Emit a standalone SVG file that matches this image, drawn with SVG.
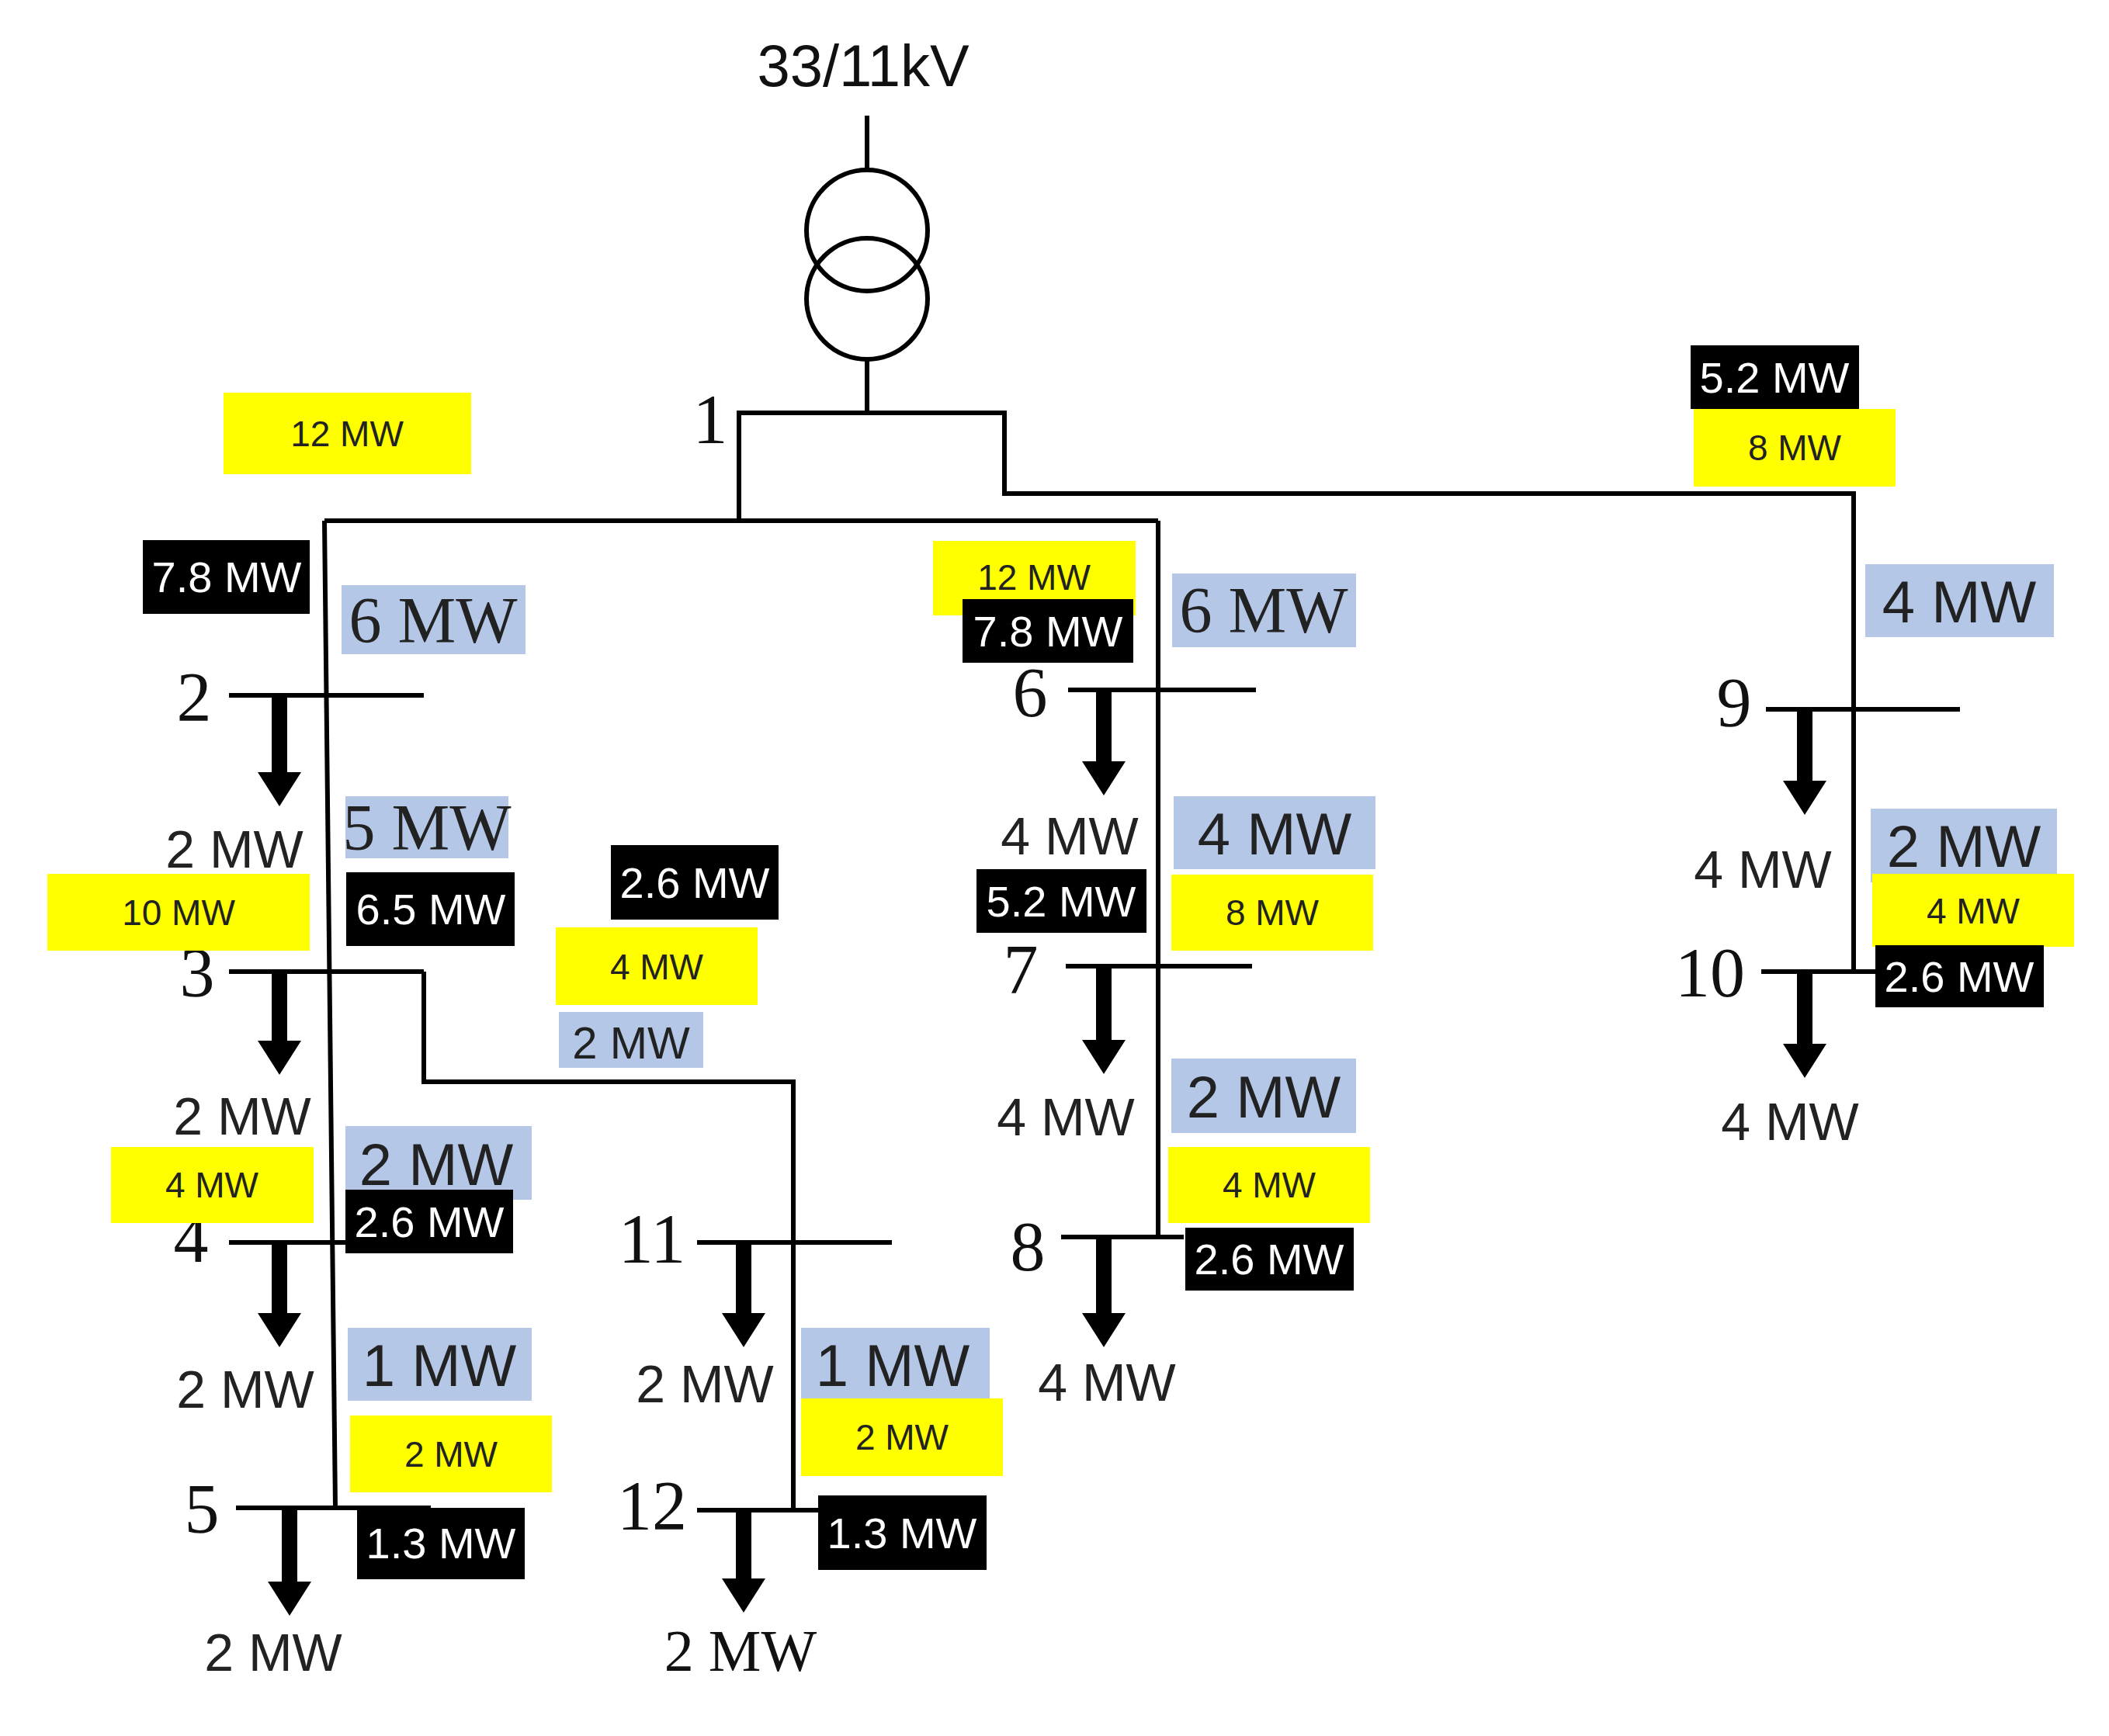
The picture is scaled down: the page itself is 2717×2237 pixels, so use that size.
<svg xmlns="http://www.w3.org/2000/svg" width="2717" height="2237" viewBox="0 0 2717 2237">
<style>
.ln{stroke:#000;stroke-width:6;fill:none}
.ar{fill:#000}
.yl{fill:#ffff00}
.bl{fill:#b4c7e7}
.bk{fill:#000}
.ty{font-family:"Liberation Sans",sans-serif;font-size:46px;fill:#222;text-anchor:middle}
.tw{font-family:"Liberation Sans",sans-serif;font-size:56px;fill:#fff;text-anchor:middle}
.tb{font-family:"Liberation Sans",sans-serif;font-size:76px;fill:#222;text-anchor:middle}
.tbs{font-family:"Liberation Serif",serif;font-size:84px;fill:#222;text-anchor:middle}
.tl{font-family:"Liberation Sans",sans-serif;font-size:68px;fill:#222;text-anchor:middle}
.tls{font-family:"Liberation Serif",serif;font-size:76px;fill:#111;text-anchor:middle}
.num{font-family:"Liberation Serif",serif;font-size:90px;fill:#111;text-anchor:middle}
.kv{font-family:"Liberation Sans",sans-serif;font-size:76px;fill:#111;text-anchor:middle}
</style>
<rect width="2717" height="2237" fill="#fff"/>
<g id="transformer">
<text class="kv" x="1112" y="111">33/11kV</text>
<line class="ln" x1="1117" y1="149" x2="1117" y2="220"/>
<circle class="ln" cx="1117" cy="297" r="78"/>
<circle class="ln" cx="1117" cy="385" r="78"/>
<line class="ln" x1="1117" y1="463" x2="1117" y2="532"/>
</g>
<g id="connectors">
<polyline class="ln" points="952,671 952,532 1294,532 1294,636 2388,636 2388,1252"/>
<line class="ln" x1="418" y1="671" x2="1492" y2="671"/>
<line class="ln" x1="418" y1="671" x2="432" y2="1943"/>
<line class="ln" x1="1492" y1="671" x2="1492" y2="1594"/>
<polyline class="ln" points="546,1252 546,1394 1022,1394 1022,1946"/>
</g>
<g id="bus1"><line class="ln" x1="950" y1="532" x2="1297" y2="532"/><text class="num" x="915" y="571">1</text></g>
<g id="bus2"><line class="ln" x1="295" y1="896" x2="546" y2="896"/><text class="num" x="250" y="929">2</text>
<polygon class="ar" points="350,896 370,896 370,995 388,995 360,1039 332,995 350,995"/></g>
<g id="bus3"><line class="ln" x1="295" y1="1252" x2="546" y2="1252"/><text class="num" x="254" y="1284">3</text>
<polygon class="ar" points="350,1252 370,1252 370,1341 388,1341 360,1385 332,1341 350,1341"/></g>
<g id="bus4"><line class="ln" x1="295" y1="1601" x2="447" y2="1601"/><text class="num" x="246" y="1626">4</text>
<polygon class="ar" points="350,1601 370,1601 370,1692 388,1692 360,1736 332,1692 350,1692"/></g>
<g id="bus5"><line class="ln" x1="304" y1="1943" x2="555" y2="1943"/><text class="num" x="260" y="1975">5</text>
<polygon class="ar" points="363,1943 383,1943 383,2038 401,2038 373,2082 345,2038 363,2038"/></g>
<g id="bus6"><line class="ln" x1="1376" y1="889" x2="1618" y2="889"/><text class="num" x="1327" y="923">6</text>
<polygon class="ar" points="1412,889 1432,889 1432,981 1450,981 1422,1025 1394,981 1412,981"/></g>
<g id="bus7"><line class="ln" x1="1373" y1="1245" x2="1613" y2="1245"/><text class="num" x="1315" y="1280">7</text>
<polygon class="ar" points="1412,1245 1432,1245 1432,1340 1450,1340 1422,1384 1394,1340 1412,1340"/></g>
<g id="bus8"><line class="ln" x1="1367" y1="1594" x2="1525" y2="1594"/><text class="num" x="1324" y="1637">8</text>
<polygon class="ar" points="1412,1594 1432,1594 1432,1692 1450,1692 1422,1736 1394,1692 1412,1692"/></g>
<g id="bus9"><line class="ln" x1="2275" y1="914" x2="2525" y2="914"/><text class="num" x="2234" y="936">9</text>
<polygon class="ar" points="2315,914 2335,914 2335,1006 2353,1006 2325,1050 2297,1006 2315,1006"/></g>
<g id="bus10"><line class="ln" x1="2269" y1="1252" x2="2418" y2="1252"/><text class="num" x="2203" y="1284">10</text>
<polygon class="ar" points="2315,1252 2335,1252 2335,1345 2353,1345 2325,1389 2297,1345 2315,1345"/></g>
<g id="bus11"><line class="ln" x1="898" y1="1601" x2="1149" y2="1601"/><text class="num" x="840" y="1627">11</text>
<polygon class="ar" points="948,1601 968,1601 968,1692 986,1692 958,1736 930,1692 948,1692"/></g>
<g id="bus12"><line class="ln" x1="898" y1="1946" x2="1054" y2="1946"/><text class="num" x="840" y="1971">12</text>
<polygon class="ar" points="948,1946 968,1946 968,2034 986,2034 958,2078 930,2034 948,2034"/></g>
<g id="loads">
<text class="tl" x="302" y="1118">2 MW</text>
<text class="tl" x="312" y="1462">2 MW</text>
<text class="tl" x="316" y="1814">2 MW</text>
<text class="tl" x="352" y="2153">2 MW</text>
<text class="tl" x="908" y="1807">2 MW</text>
<text class="tls" x="954" y="2153">2 MW</text>
<text class="tl" x="1378" y="1101">4 MW</text>
<text class="tl" x="1373" y="1463">4 MW</text>
<text class="tl" x="1426" y="1805">4 MW</text>
<text class="tl" x="2271" y="1144">4 MW</text>
<text class="tl" x="2306" y="1469">4 MW</text>
</g>
<g id="labels">
<rect class="yl" x="288" y="506" width="319" height="105"/><text class="ty" x="447" y="575">12 MW</text>
<rect class="bk" x="184" y="696" width="215" height="95"/><text class="tw" x="292" y="763">7.8 MW</text>
<rect class="bl" x="440" y="754" width="237" height="89"/><text class="tbs" x="558" y="828">6 MW</text>
<rect class="bl" x="445" y="1026" width="210" height="80"/><text class="tbs" x="550" y="1095">5 MW</text>
<rect class="yl" x="61" y="1126" width="338" height="99"/><text class="ty" x="230" y="1192">10 MW</text>
<rect class="bk" x="446" y="1124" width="217" height="95"/><text class="tw" x="555" y="1191">6.5 MW</text>
<rect class="bl" x="445" y="1451" width="240" height="95"/><text class="tb" x="562" y="1527">2 MW</text>
<rect class="yl" x="143" y="1478" width="261" height="98"/><text class="ty" x="273" y="1543">4 MW</text>
<rect class="bk" x="445" y="1533" width="216" height="82"/><text class="tw" x="553" y="1594">2.6 MW</text>
<rect class="bl" x="448" y="1711" width="237" height="94"/><text class="tb" x="566" y="1786">1 MW</text>
<rect class="yl" x="451" y="1824" width="260" height="99"/><text class="ty" x="581" y="1890">2 MW</text>
<rect class="bk" x="460" y="1943" width="216" height="92"/><text class="tw" x="568" y="2008">1.3 MW</text>
<rect class="bk" x="787" y="1089" width="216" height="96"/><text class="tw" x="895" y="1157">2.6 MW</text>
<rect class="yl" x="716" y="1195" width="260" height="100"/><text class="ty" x="846" y="1262">4 MW</text>
<rect class="bl" x="720" y="1304" width="186" height="72"/><text class="tl" x="813" y="1364" style="font-size:58px">2 MW</text>
<rect class="bl" x="1032" y="1711" width="243" height="94"/><text class="tb" x="1150" y="1786">1 MW</text>
<rect class="yl" x="1032" y="1802" width="260" height="100"/><text class="ty" x="1162" y="1868">2 MW</text>
<rect class="bk" x="1054" y="1927" width="217" height="96"/><text class="tw" x="1162" y="1995">1.3 MW</text>
<rect class="yl" x="1202" y="697" width="261" height="96"/><text class="ty" x="1332" y="760">12 MW</text>
<rect class="bk" x="1240" y="772" width="220" height="82"/><text class="tw" x="1350" y="833">7.8 MW</text>
<rect class="bl" x="1510" y="739" width="237" height="95"/><text class="tbs" x="1628" y="815">6 MW</text>
<rect class="bl" x="1512" y="1026" width="260" height="94"/><text class="tb" x="1642" y="1101">4 MW</text>
<rect class="bk" x="1258" y="1120" width="219" height="82"/><text class="tw" x="1367" y="1181">5.2 MW</text>
<rect class="yl" x="1509" y="1127" width="260" height="98"/><text class="ty" x="1639" y="1192">8 MW</text>
<rect class="bl" x="1509" y="1364" width="238" height="96"/><text class="tb" x="1628" y="1440">2 MW</text>
<rect class="yl" x="1505" y="1478" width="260" height="98"/><text class="ty" x="1635" y="1543">4 MW</text>
<rect class="bk" x="1527" y="1582" width="217" height="81"/><text class="tw" x="1635" y="1642">2.6 MW</text>
<rect class="bk" x="2178" y="445" width="217" height="82"/><text class="tw" x="2286" y="506">5.2 MW</text>
<rect class="yl" x="2182" y="527" width="260" height="100"/><text class="ty" x="2312" y="593">8 MW</text>
<rect class="bl" x="2403" y="727" width="243" height="94"/><text class="tb" x="2524" y="802">4 MW</text>
<rect class="bl" x="2410" y="1042" width="240" height="95"/><text class="tb" x="2530" y="1117">2 MW</text>
<rect class="yl" x="2412" y="1126" width="260" height="94"/><text class="ty" x="2542" y="1190">4 MW</text>
<rect class="bk" x="2416" y="1218" width="217" height="80"/><text class="tw" x="2524" y="1278">2.6 MW</text>
</g>
</svg>
